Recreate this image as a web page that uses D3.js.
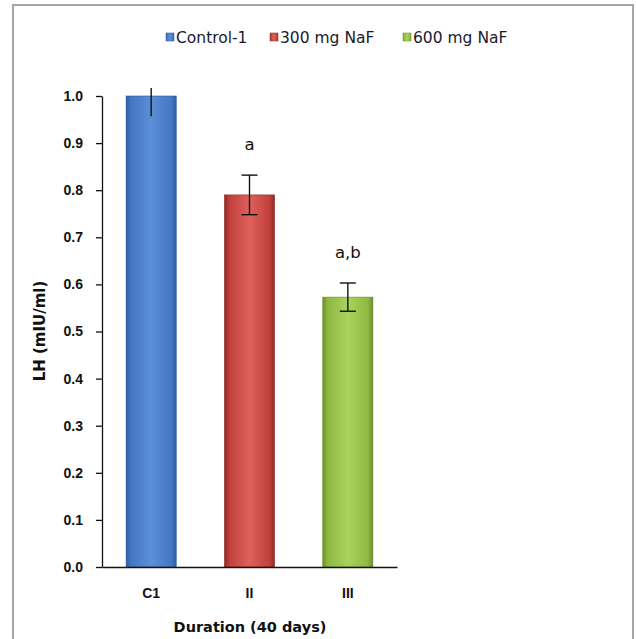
<!DOCTYPE html>
<html>
<head>
<meta charset="utf-8">
<script src="https://cdn.jsdelivr.net/npm/d3@7"></script>
<style>
  body { margin: 0; background: #fff; }
  svg { display: block; font-family: "DejaVu Sans", "Liberation Sans", sans-serif; }
</style>
</head>
<body>
<script>
const categories = ["C1", "II", "III"]
const seriesNames = ["Control-1", "300 mg NaF", "600 mg NaF"]
const values = [1.0, 0.79, 0.573]
const errors = [0.043, 0.042, 0.03]
const marks = ["", "a", "a,b"]
const yTicks = [0, 0.1, 0.2, 0.3, 0.4, 0.5, 0.6, 0.7, 0.8, 0.9, 1.0]

const colors = [
  {light: "#5b8fd6", mid: "#4477c4", dark: "#2f5c9e"},
  {light: "#e0615c", mid: "#c0403b", dark: "#8e2926"},
  {light: "#a9d35a", mid: "#8fb844", dark: "#6b8f2b"}
]

const width = 636, height = 639
const svg = d3.select("body").append("svg").attr("width", width).attr("height", height)

// outer chart border
svg.append("rect")
  .attr("x", 13).attr("y", 5).attr("width", 620).attr("height", 650)
  .attr("fill", "none").attr("stroke", "#a6a6a6").attr("stroke-width", 2)

const xScale = d3.scaleBand().domain(categories).range([102, 397]).paddingInner(0.49).paddingOuter(0.245)
const yScale = d3.scaleLinear().domain([0, 1.0]).range([567, 96])

const defs = svg.append("defs")
colors.forEach((c, i) => {
  const g = defs.append("linearGradient").attr("id", "grad" + i)
    .attr("x1", "0").attr("x2", "1").attr("y1", "0").attr("y2", "0")
  g.append("stop").attr("offset", "0%").attr("stop-color", c.dark)
  g.append("stop").attr("offset", "10%").attr("stop-color", c.mid)
  g.append("stop").attr("offset", "50%").attr("stop-color", c.light)
  g.append("stop").attr("offset", "90%").attr("stop-color", c.mid)
  g.append("stop").attr("offset", "100%").attr("stop-color", c.dark)
})
defs.append("clipPath").attr("id", "plotClip")
  .append("rect").attr("x", 102).attr("y", 88).attr("width", 300).attr("height", 480)

// bars
svg.append("g").selectAll("rect").data(values).join("rect")
  .attr("x", (d, i) => xScale(categories[i]))
  .attr("y", d => yScale(d))
  .attr("width", xScale.bandwidth())
  .attr("height", d => yScale(0) - yScale(d))
  .attr("fill", (d, i) => `url(#grad${i})`)
  .attr("stroke", (d, i) => colors[i].dark).attr("stroke-width", 0.6)

// error bars
const eb = svg.append("g").attr("clip-path", "url(#plotClip)")
  .attr("stroke", "#111").attr("stroke-width", 1.4)
values.forEach((v, i) => {
  const cx = xScale(categories[i]) + xScale.bandwidth() / 2
  const top = yScale(v + errors[i]), bot = yScale(v - errors[i])
  eb.append("line").attr("x1", cx).attr("x2", cx).attr("y1", top).attr("y2", bot)
  if (v + errors[i] <= 1.0) {
    eb.append("line").attr("x1", cx - 8).attr("x2", cx + 8).attr("y1", top).attr("y2", top)
    eb.append("line").attr("x1", cx - 8).attr("x2", cx + 8).attr("y1", bot).attr("y2", bot)
  }
})

// significance marks
svg.append("g").selectAll("text").data(marks).join("text")
  .attr("x", (d, i) => xScale(categories[i]) + xScale.bandwidth() / 2)
  .attr("y", (d, i) => yScale(values[i] + errors[i]) - 25)
  .attr("text-anchor", "middle")
  .attr("font-size", 16.5).attr("fill", "#111")
  .text(d => d)

// axes
const yAxis = svg.append("g").attr("transform", "translate(102,0)")
  .call(d3.axisLeft(yScale).tickValues(yTicks).tickFormat(d3.format(".1f")).tickSize(6).tickSizeOuter(0))
yAxis.select(".domain").attr("stroke", "#111").attr("stroke-width", 1.3)
yAxis.selectAll(".tick line").attr("stroke", "#111").attr("stroke-width", 1.3)
yAxis.selectAll(".tick text").attr("font-size", 14).attr("font-weight", "bold").attr("fill", "#111").attr("dx", -10)

const xAxis = svg.append("g").attr("transform", "translate(0,567)")
  .call(d3.axisBottom(xScale).tickSize(0).tickSizeOuter(0))
xAxis.select(".domain").attr("stroke", "#111").attr("stroke-width", 1.3)
xAxis.selectAll(".tick text").attr("font-size", 14).attr("font-weight", "bold").attr("fill", "#111").attr("dy", "2em")

// axis titles
svg.append("text").attr("x", 250).attr("y", 632).attr("text-anchor", "middle")
  .attr("font-size", 14.5).attr("font-weight", "bold").attr("fill", "#111")
  .text("Duration (40 days)")
svg.append("text").attr("transform", "translate(45,331) rotate(-90)").attr("text-anchor", "middle")
  .attr("font-size", 15).attr("font-weight", "bold").attr("fill", "#111")
  .text("LH (mIU/ml)")

// legend
const legendX = [166, 270, 403]
const lg = svg.append("g")
seriesNames.forEach((name, i) => {
  lg.append("rect").attr("x", legendX[i]).attr("y", 33).attr("width", 8).attr("height", 8)
    .attr("fill", `url(#grad${i})`).attr("stroke", colors[i].dark).attr("stroke-width", 0.5)
  lg.append("text").attr("x", legendX[i] + 10).attr("y", 42.5)
    .attr("font-size", 15.5).attr("fill", "#1a1a2e").text(name)
})
</script>
</body>
</html>
